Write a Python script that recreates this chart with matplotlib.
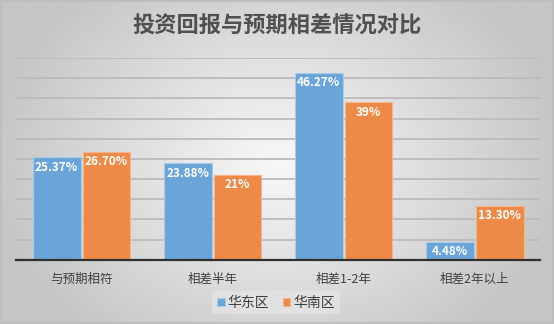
import numpy as np
import matplotlib
matplotlib.use('Agg')
import matplotlib.pyplot as plt

plt.rcParams['font.family'] = ['Noto Sans CJK SC', 'DejaVu Sans']

categories = ['与预期相符', '相差半年', '相差1-2年', '相差2年以上']
east = [25.37, 23.88, 46.27, 4.48]
south = [26.70, 21.0, 39.0, 13.30]
east_labels = ['25.37%', '23.88%', '46.27%', '4.48%']
south_labels = ['26.70%', '21%', '39%', '13.30%']
series_names = ['华东区', '华南区']

blue = '#6BA4D8'
orange = '#EE8A48'

fig = plt.figure(figsize=(5.54, 3.24), dpi=100)

# background gradient, lighter in the middle
bg = fig.add_axes([0, 0, 1, 1], zorder=-10)
xx, yy = np.meshgrid(np.linspace(-1, 1, 300), np.linspace(-1, 1, 200))
r = np.sqrt(xx ** 2 * 0.9 + yy ** 2 * 0.5)
bg.imshow(0.97 - 0.20 * np.clip(r, 0, 1), cmap='gray', vmin=0, vmax=1,
          aspect='auto', extent=[0, 1, 0, 1])
bg.plot([0.002, 0.998, 0.998, 0.002, 0.002], [0.002, 0.002, 0.998, 0.998, 0.002],
        color='#BDBDBD', lw=1.5)
bg.set_xlim(0, 1)
bg.set_ylim(0, 1)
bg.axis('off')

ax = fig.add_axes([0.029, 0.198, 0.946, 0.623])
ax.patch.set_alpha(0)
x = np.arange(len(categories))
w = 0.365
b1 = ax.bar(x - w / 2 - 0.008, east, w, color=blue, edgecolor='#A9CBEA', lw=0.8, zorder=3)
b2 = ax.bar(x + w / 2 + 0.008, south, w, color=orange, edgecolor='#F5B58A', lw=0.8, zorder=3)

for bars, labels in [(b1, east_labels), (b2, south_labels)]:
    for bar, lbl in zip(bars, labels):
        ax.text(bar.get_x() + bar.get_width() / 2, bar.get_height() - 0.8, lbl,
                ha='center', va='top', color='white', fontsize=8.5,
                fontweight='bold', zorder=4)

ax.set_xlim(-0.5, 3.5)
ax.set_ylim(0, 50)
ax.set_yticks(np.arange(5, 55, 5))
ax.yaxis.grid(True, color='#BBBBBB', lw=1.3)
ax.tick_params(left=False, labelleft=False, bottom=False)
ax.set_xticks(x)
ax.set_xticklabels(categories, fontsize=9, color='#404040', fontweight='medium')
ax.tick_params(axis='x', pad=6)
for s in ['top', 'right', 'left']:
    ax.spines[s].set_visible(False)
ax.spines['bottom'].set_color('#303030')
ax.spines['bottom'].set_linewidth(1.6)
ax.spines['bottom'].set_zorder(5)

fig.text(0.5, 0.918, '投资回报与预期相差情况对比', ha='center', va='center',
         fontsize=16, color='#505050', fontweight='bold')

leg = fig.legend([b1, b2], series_names, loc='center', bbox_to_anchor=(0.498, 0.066),
                 ncol=2, frameon=True, fontsize=10, handlelength=0.55, handleheight=0.55,
                 handletextpad=0.2, columnspacing=1.0, borderpad=0.35, fancybox=False)
leg.get_frame().set_facecolor('#E4E4E4')
leg.get_frame().set_edgecolor('none')
for t in leg.get_texts():
    t.set_color('#404040')

fig.savefig('out.png', dpi=100)
